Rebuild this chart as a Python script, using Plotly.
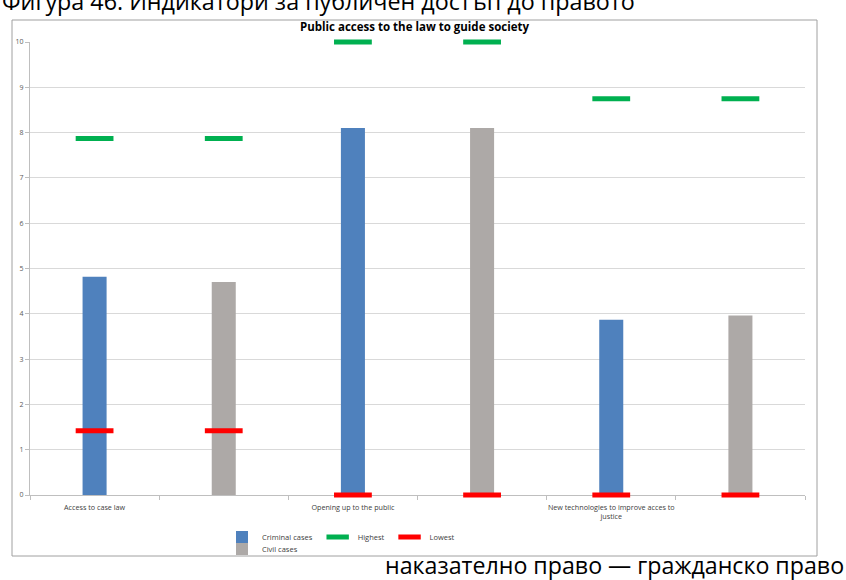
import plotly.graph_objects as go

# ---- data ----
categories = ["Access to case law", "Opening up to the public",
              "New technologies to improve acces to<br>justice"]
criminal = [4.82, 8.10, 3.87]
civil = [4.70, 8.10, 3.96]
highest = [7.87, 7.87, 10.0, 10.0, 8.75, 8.75]
lowest = [1.42, 1.42, 0.0, 0.0, 0.0, 0.0]
y_ticks = list(range(0, 11))

crim_x = [0, 2, 4]
civ_x = [1, 3, 5]
all_x = [0, 1, 2, 3, 4, 5]

W, H = 846, 580
L, R, T, B = 30, 41, 42, 85
pw, ph = W - L - R, H - T - B

def px_x(p):
    return (p - L) / pw

def px_y(p):
    return (H - B - p) / ph

fig = go.Figure()
fig.add_trace(go.Bar(x=crim_x, y=criminal, width=0.186, name="Criminal cases",
                     marker=dict(color="#4F81BD", line=dict(width=0)),
                     legend="legend"))
fig.add_trace(go.Bar(x=civ_x, y=civil, width=0.186, name="Civil cases",
                     marker=dict(color="#ADA9A7", line=dict(width=0)),
                     legend="legend2"))
fig.add_trace(go.Scatter(x=all_x, y=highest, mode="markers", name="Highest",
                         marker=dict(symbol="line-ew", size=27,
                                     line=dict(color="#00B050", width=5)),
                         cliponaxis=False, legend="legend"))
fig.add_trace(go.Scatter(x=all_x, y=lowest, mode="markers", name="Lowest",
                         marker=dict(symbol="line-ew", size=27,
                                     line=dict(color="#FF0000", width=5)),
                         cliponaxis=False, legend="legend"))

fig.update_layout(
    width=W, height=H,
    margin=dict(l=L, r=R, t=T, b=B),
    paper_bgcolor="white", plot_bgcolor="white",
    font=dict(family="Open Sans", color="#404040"),
    barmode="overlay",
    title=dict(text="<b>Public access to the law to guide society</b>",
               x=0.490, xanchor="center", y=1 - 27 / H, yanchor="middle",
               font=dict(size=11.5, color="#000000", family="Open Sans")),
    xaxis=dict(range=[-0.5, 5.5], tickmode="array", tickvals=crim_x,
               ticktext=categories, ticks="", showgrid=False,
               showline=True, linecolor="#BFBFBF", linewidth=1,
               layer="below traces", ticklabelstandoff=5,
               tickfont=dict(size=7.2, color="#404040"), zeroline=False,
               minor=dict(tick0=0.5, dtick=1, ticks="outside", ticklen=4,
                          tickcolor="#BFBFBF", showgrid=False)),
    yaxis=dict(range=[0, 10], tickmode="array", tickvals=y_ticks,
               showgrid=True, gridcolor="#D9D9D9", gridwidth=1,
               showline=True, linecolor="#BFBFBF", linewidth=1,
               layer="below traces",
               ticks="outside", ticklen=4, tickcolor="#BFBFBF",
               tickfont=dict(size=7, color="#595959"), zeroline=False),
    legend=dict(orientation="h", x=px_x(222), y=px_y(537), xanchor="left",
                yanchor="middle", font=dict(size=7.5, color="#404040"),
                bgcolor="rgba(0,0,0,0)", itemwidth=30,
                traceorder="normal"),
    legend2=dict(orientation="h", x=px_x(222), y=px_y(549), xanchor="left",
                 yanchor="middle", font=dict(size=7.5, color="#404040"),
                 bgcolor="rgba(0,0,0,0)", itemwidth=30),
    shapes=[dict(type="rect", xref="paper", yref="paper",
                 x0=px_x(12), x1=px_x(817), y0=px_y(556), y1=px_y(20),
                 line=dict(color="#A0A0A0", width=1), fillcolor="rgba(0,0,0,0)",
                 layer="below")],
    annotations=[
        dict(text="Фигура 46. Индикатори за публичен достъп до правото",
             xref="paper", yref="paper", x=px_x(0), y=px_y(19),
             xanchor="left", yanchor="bottom", showarrow=False,
             font=dict(size=23.3, family="Open Sans", color="#000000")),
        dict(text="наказателно право — гражданско право",
             xref="paper", yref="paper", x=px_x(846), y=px_y(583),
             xanchor="right", yanchor="bottom", showarrow=False,
             font=dict(size=23.2, family="Open Sans", color="#000000")),
    ],
)

fig.write_html(
    "out.html",
    config={"displayModeBar": False},
    post_script="document.body.style.margin='0';"
                "document.body.style.overflow='hidden';"
                "document.documentElement.style.overflow='hidden';",
)
